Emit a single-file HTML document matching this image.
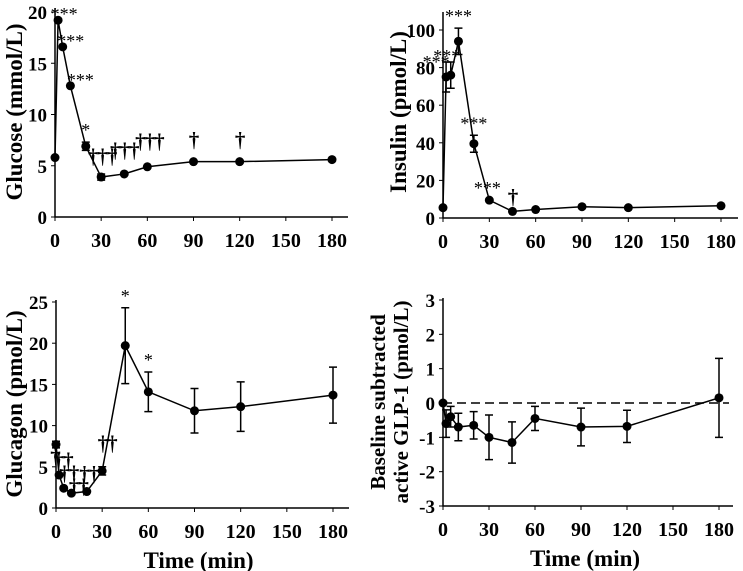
<!DOCTYPE html>
<html><head><meta charset="utf-8"><style>
body{margin:0;background:#fff}
svg{display:block;font-family:"Liberation Serif",serif;font-weight:bold}
</style></head><body>
<svg id="c" width="743" height="571" viewBox="0 0 743 571" xmlns="http://www.w3.org/2000/svg"></svg>
<script>
const times=[0,2,5,10,20,30,45,60,90,120,180];
const xTicks=[0,30,60,90,120,150,180];
const glucoseVals=[5.8,19.2,16.6,12.8,6.9,3.9,4.2,4.9,5.4,5.4,5.6];
const glucoseErr=[0,0,0,0,0.4,0.3,0,0,0,0,0];
const glucoseTicks=[0,5,10,15,20];
const glucoseMarks=["","***","***","***","*","†††","†††","†††","†","†",""];
const insulinVals=[5.5,75,76,94,39.5,9.5,3.5,4.5,6,5.5,6.5];
const insulinErr=[0,8,7,7,4.5,0,0,0,0,0,0];
const insulinTicks=[0,20,40,60,80,100];
const insulinMarks=["","***","***","***","***","***","†","","","",""];
const glucagonVals=[7.7,4,2.4,1.8,2,4.5,19.7,14.1,11.8,12.3,13.7];
const glucagonErr=[0.4,0,0,0,0,0.5,4.6,2.4,2.7,3,3.4];
const glucagonTicks=[0,5,10,15,20,25];
const glucagonMarks=["†","††","††","††","††","††","*","*","","",""];
const glpVals=[0,-0.6,-0.4,-0.7,-0.65,-1.0,-1.15,-0.45,-0.7,-0.68,0.15];
const glpErr=[0,0.4,0.3,0.4,0.4,0.65,0.6,0.35,0.55,0.47,1.15];
const glpTicks=[-3,-2,-1,0,1,2,3];

const svg=document.getElementById('c');const NS='http://www.w3.org/2000/svg';
function mk(t,a,p){const e=document.createElementNS(NS,t);for(const k in a)e.setAttribute(k,a[k]);(p||svg).appendChild(e);return e;}
function panel(o){
 const g=mk('g',{});
 
 
 const X=v=>o.x0+(o.x1-o.x0)*v/180;
 const Y=v=>o.yb+(o.yt-o.yb)*(v-o.ymin)/(o.ymax-o.ymin);
 const ax=mk('path',{d:`M${o.x0} ${o.top}V${o.yb}H${o.right}`,stroke:'#000','stroke-width':1.5,fill:'none'},g);
 
 
 o.ticks.forEach(t=>{mk('line',{x1:o.x0-4,x2:o.x0,y1:Y(t),y2:Y(t),stroke:'#000'},g);
  const tx=mk('text',{x:o.x0-8,y:Y(t)+7,'text-anchor':'end','font-size':19},g);tx.textContent=t;
  
  });
 xTicks.forEach(t=>{mk('line',{x1:X(t),x2:X(t),y1:o.yb,y2:o.yb+4,stroke:'#000'},g);
  const tx=mk('text',{x:X(t),y:o.yb+30,'text-anchor':'middle','font-size':20},g);tx.textContent=t;
  
  });
 o.titles.forEach((s,i)=>{const tx=mk('text',{transform:`translate(${o.tx+i*23},${o.ty}) rotate(-90)`,'text-anchor':'middle','font-size':o.tfs||23},g);tx.textContent=s;
  
  });
 if(o.xtitle){const tx=mk('text',{x:(o.x0+o.x1)/2+4,y:o.yb+60,'text-anchor':'middle','font-size':23},g);tx.textContent='Time (min)';
  
  }
 if(o.zero){const l=mk('line',{x1:o.x0,x2:o.right-4,y1:Y(0),y2:Y(0),stroke:'#000','stroke-width':1.5,'stroke-dasharray':'9,5'},g);
  
  }
 const ln=mk('polyline',{points:times.map((t,i)=>X(t)+','+Y(o.vals[i])).join(' '),fill:'none',stroke:'#000','stroke-width':1.5},g);
 
 
 times.forEach((t,i)=>{const e=o.err[i];
  if(e>0){const p=mk('path',{d:`M${X(t)} ${Y(o.vals[i]-e)}V${Y(o.vals[i]+e)}M${X(t)-4} ${Y(o.vals[i]+e)}h8M${X(t)-4} ${Y(o.vals[i]-e)}h8`,stroke:'#000','stroke-width':1.5,fill:'none'},g);
   
   }
  const c=mk('circle',{cx:X(t),cy:Y(o.vals[i]),r:4.5,fill:'#000'},g);
  
  
  if(o.marks&&o.marks[i]){const m=o.marks[i];const dag=m.indexOf('†')>=0;const top=Y(o.vals[i]+e);
   const tx=mk('text',{x:X(t)+(o.mdx?o.mdx[i]:0),y:top-6+(o.mdy?o.mdy[i]:0),'text-anchor':'middle','font-size':dag?21:18,'font-weight':dag?'bold':'normal','letter-spacing':dag?-1:0},g);tx.textContent=m;
   
   }
 });
}
panel({name:'glucose-panel',x0:55,x1:332,right:348,top:8,yb:217,yt:12,ymin:0,ymax:20,ticks:glucoseTicks,vals:glucoseVals,err:glucoseErr,marks:glucoseMarks,
 mdx:[0,6,8,10,0,1,0,2,0,0,0],mdy:[0,6,6,6,0,-5,-11,-13,-9,-9,0],titles:['Glucose (mmol/L)'],tx:22,ty:112});
panel({name:'insulin-panel',x0:443,x1:721,right:738,top:12,yb:218,yt:30,ymin:0,ymax:100,ticks:insulinTicks,vals:insulinVals,err:insulinErr,marks:insulinMarks,
 mdx:[0,-10,-4,0,0,-2,0,0,0,0,0],mdy:[0,12,6,0,0,0,-2,0,0,0,0],titles:['Insulin (pmol/L)'],tx:406,ty:112});
panel({name:'glucagon-panel',x0:56,x1:333,right:349,top:300,yb:508,yt:302,ymin:0,ymax:25,ticks:glucagonTicks,vals:glucagonVals,err:glucagonErr,marks:glucagonMarks,
 mdx:[-1,4,5,7,2,5,0,0,0,0,0],mdy:[27,-2,-2,6,-5,-11,0,0,0,0,0],titles:['Glucagon (pmol/L)'],tx:22,ty:404,xtitle:true});
panel({name:'glp1-panel',x0:443,x1:719,right:733,top:298,yb:506,yt:300,ymin:-3,ymax:3,ticks:glpTicks,vals:glpVals,err:glpErr,
 titles:['Baseline subtracted','active GLP-1 (pmol/L)'],tx:385,ty:402,tfs:21,xtitle:true,zero:true});
</script>
</body></html>
